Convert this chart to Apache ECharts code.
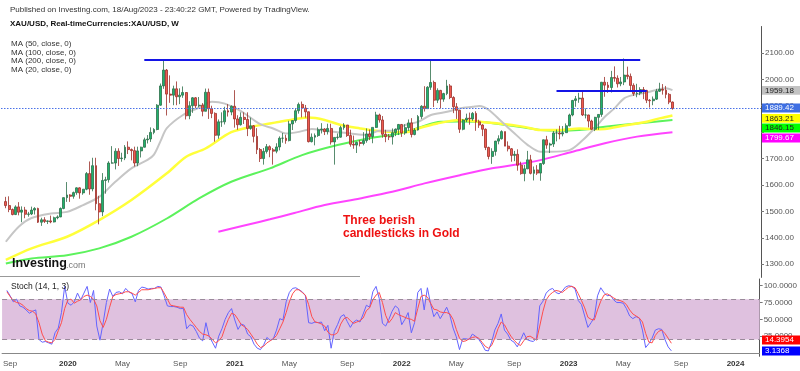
<!DOCTYPE html>
<html><head><meta charset="utf-8">
<script src="https://cdn.jsdelivr.net/npm/echarts@6/dist/echarts.min.js"></script>
<style>html,body{margin:0;padding:0;background:#fff}#c{width:800px;height:371px}</style>
</head><body><div id="c"></div>
<script>
// ---- data (weekly XAU/USD, [open, high, low, close]) ----
const firstWeek = '2019-08-26';
const candles2019 = [[1537,1555,1512,1522],[1522,1557,1497,1507],[1507,1511,1485,1488],[1488,1523,1486,1517],[1517,1535,1485,1497],[1497,1519,1459,1505],[1505,1517,1474,1489],[1489,1498,1480,1490],[1490,1518,1486,1505],[1505,1516,1488,1511],[1511,1514,1456,1459],[1459,1476,1445,1468],[1468,1478,1456,1462],[1462,1466,1452,1464],[1464,1484,1455,1460],[1460,1480,1458,1476],[1476,1485,1470,1479],[1479,1515,1478,1511],[1511,1553,1508,1552]];
const candles2020 = [[1552,1611,1536,1562],[1562,1565,1536,1557],[1557,1575,1548,1571],[1571,1591,1563,1589],[1589,1591,1548,1570],[1570,1584,1563,1584],[1584,1649,1580,1643],[1643,1689,1563,1585],[1585,1703,1576,1673],[1673,1703,1504,1529],[1529,1559,1451,1498],[1498,1645,1482,1617],[1617,1631,1567,1620],[1620,1690,1609,1683],[1683,1747,1681,1683],[1683,1739,1659,1728],[1728,1739,1672,1700],[1700,1722,1688,1702],[1702,1751,1694,1743],[1743,1765,1717,1734],[1734,1738,1693,1730],[1730,1745,1670,1683],[1683,1745,1671,1729],[1729,1745,1704,1743],[1743,1779,1742,1771],[1771,1789,1757,1774],[1774,1818,1763,1799],[1799,1815,1792,1810],[1810,1906,1807,1902],[1902,1984,1900,1975],[1975,2075,1964,2035],[2035,2039,1863,1944],[1944,2015,1911,1940],[1940,1976,1902,1964],[1964,1992,1902,1934],[1934,1966,1906,1940],[1940,1973,1930,1950],[1950,1951,1848,1862],[1862,1917,1849,1900],[1900,1933,1873,1930],[1930,1933,1891,1900],[1900,1933,1894,1902],[1902,1910,1860,1879],[1879,1965,1879,1951],[1951,1965,1850,1889],[1889,1900,1853,1871],[1871,1875,1764,1788],[1788,1848,1775,1839],[1839,1875,1820,1839],[1839,1896,1829,1881],[1881,1906,1859,1876],[1876,1901,1864,1898]];
const candles2021 = [[1898,1959,1817,1850],[1850,1864,1809,1828],[1828,1875,1825,1856],[1856,1875,1831,1848],[1848,1875,1785,1814],[1814,1855,1809,1824],[1824,1827,1761,1784],[1784,1815,1717,1734],[1734,1740,1687,1700],[1700,1740,1677,1727],[1727,1755,1719,1745],[1745,1750,1705,1733],[1733,1740,1677,1728],[1728,1758,1720,1744],[1744,1784,1731,1777],[1777,1797,1760,1777],[1777,1790,1756,1768],[1768,1843,1765,1831],[1831,1845,1808,1844],[1844,1890,1836,1881],[1881,1912,1870,1905],[1905,1916,1856,1891],[1891,1903,1855,1877],[1877,1878,1761,1764],[1764,1795,1761,1781],[1781,1795,1750,1787],[1787,1818,1782,1809],[1809,1834,1795,1812],[1812,1815,1789,1802],[1802,1832,1791,1814],[1814,1832,1753,1763],[1763,1780,1677,1780],[1780,1795,1772,1781],[1781,1824,1779,1817],[1817,1834,1809,1827],[1827,1827,1782,1787],[1787,1809,1745,1754],[1754,1787,1737,1751],[1751,1764,1721,1761],[1761,1770,1746,1757],[1757,1800,1750,1768],[1768,1814,1760,1793],[1793,1810,1770,1783],[1783,1818,1758,1818],[1818,1877,1816,1865],[1865,1870,1836,1846],[1846,1861,1779,1792],[1792,1809,1762,1783],[1783,1793,1770,1782],[1782,1814,1753,1798],[1798,1814,1785,1811],[1811,1831,1789,1829]];
const candles2022 = [[1829,1831,1782,1797],[1797,1830,1790,1817],[1817,1848,1805,1835],[1835,1853,1780,1791],[1791,1815,1788,1808],[1808,1865,1806,1859],[1859,1902,1850,1898],[1898,1974,1878,1889],[1889,1974,1888,1970],[1970,2070,1960,1988],[1988,1995,1895,1921],[1921,1966,1910,1958],[1958,1960,1890,1925],[1925,1949,1915,1946],[1946,1998,1940,1975],[1975,1982,1925,1931],[1931,1936,1872,1896],[1896,1910,1850,1883],[1883,1884,1797,1811],[1811,1849,1807,1846],[1846,1870,1838,1853],[1853,1874,1828,1850],[1850,1876,1843,1871],[1871,1879,1805,1839],[1839,1847,1816,1827],[1827,1830,1785,1811],[1811,1814,1732,1742],[1742,1745,1697,1708],[1708,1739,1680,1727],[1727,1767,1711,1766],[1766,1788,1754,1775],[1775,1807,1772,1802],[1802,1802,1747,1747],[1747,1765,1727,1737],[1737,1740,1688,1712],[1712,1729,1690,1716],[1716,1735,1654,1675],[1675,1688,1639,1643],[1643,1676,1614,1661],[1661,1729,1660,1695],[1695,1714,1640,1644],[1644,1670,1617,1657],[1657,1675,1638,1645],[1645,1682,1616,1681],[1681,1772,1676,1771],[1771,1786,1737,1751],[1751,1760,1721,1755],[1755,1804,1744,1797],[1797,1810,1765,1797],[1797,1824,1773,1793],[1793,1823,1784,1798],[1798,1833,1797,1824]];
const candles2023 = [[1824,1870,1822,1865],[1865,1922,1860,1920],[1920,1937,1896,1926],[1926,1949,1911,1929],[1929,1959,1861,1865],[1865,1890,1852,1865],[1865,1866,1818,1842],[1842,1847,1809,1811],[1811,1858,1804,1856],[1856,1868,1809,1867],[1867,1990,1858,1989],[1989,2009,1934,1978],[1978,1990,1949,1969],[1969,2032,1950,2007],[2007,2049,1991,2004],[2004,2015,1969,1983],[1983,2009,1974,1990],[1990,2079,1978,2016],[2016,2048,2000,2011],[2011,2022,1952,1977],[1977,1985,1937,1946],[1946,1983,1932,1948],[1948,1970,1940,1961],[1961,1971,1925,1958],[1958,1960,1910,1921],[1921,1925,1893,1919],[1919,1935,1902,1925],[1925,1964,1922,1955],[1955,1987,1952,1962],[1962,1982,1942,1959],[1959,1975,1928,1943],[1943,1948,1906,1914],[1914,1916,1885,1889.42]];

// moving averages: [week index from first candle, value]
const ma20Points = [[0,1385],[4,1442],[8,1475],[14,1492],[19,1498],[24,1524],[29,1555],[34,1612],[39,1663],[44,1695],[46,1715],[48,1765],[50,1815],[55,1865],[60,1893],[64,1915],[68,1908],[73,1880],[79,1830],[83,1814],[87,1795],[91,1801],[95,1812],[99,1805],[103,1800],[107,1795],[112,1790],[116,1805],[120,1805],[124,1827],[128,1839],[132,1865],[137,1877],[141,1890],[145,1896],[147,1899],[150,1884],[154,1839],[158,1795],[162,1752],[166,1726],[169,1726],[175,1732],[179,1768],[183,1817],[186,1858],[189,1890],[192,1928],[195,1941],[199,1950],[202,1960],[205,1966],[207,1959.18]];
const ma50Points = [[0,1316],[8,1360],[19,1404],[29,1467],[39,1543],[50,1644],[56,1707],[62,1738],[70,1800],[77,1822],[82,1833],[85,1839],[91,1852],[94,1855],[99,1846],[104,1827],[110,1814],[115,1805],[120,1801],[125,1801],[128,1814],[134,1833],[141,1846],[147,1839],[153,1833],[161,1820],[166,1808],[172,1808],[178,1814],[182,1811],[186,1812],[192,1825],[199,1839],[203,1852],[207,1863.21]];
const ma100Points = [[0,1303],[8,1322],[19,1334],[29,1360],[39,1404],[50,1473],[60,1549],[70,1612],[82,1663],[92,1713],[103,1751],[113,1777],[123,1797],[129,1820],[135,1839],[141,1840],[147,1839],[153,1831],[161,1818],[166,1808],[172,1805],[178,1808],[186,1820],[196,1833],[207,1846.15]];
const ma200Points = [[66,1423],[79,1461],[82,1470],[89,1492],[99,1524],[110,1549],[120,1574],[130,1606],[141,1637],[151,1663],[161,1682],[166,1694],[176,1726],[186,1758],[196,1783],[207,1799.67]];

// Stochastic (14,1,3)
const stochK = [93,85,76,80,70,68,64,59,62,64,20,16,17,15,13,30,37,60,99,74,71,76,89,79,89,99,75,93,40,19,45,75,95,84,90,91,88,96,91,88,76,93,98,97,95,96,96,99,98,85,70,69,69,68,66,66,36,42,40,32,22,18,45,25,16,7,25,36,50,60,66,49,35,43,41,28,24,13,7,5,12,23,19,21,34,51,49,76,90,96,97,94,91,85,45,44,46,45,46,33,41,7,32,42,54,57,47,38,46,49,46,58,71,68,91,99,81,44,40,50,62,70,
66,42,50,60,30,45,90,96,64,97,73,54,61,51,59,68,56,37,24,5,21,21,20,28,25,20,13,4,3,16,34,44,58,34,28,19,16,9,19,30,20,18,17,22,70,77,89,94,96,90,88,92,98,100,99,95,78,72,55,38,45,53,85,97,90,85,86,79,75,75,74,66,55,51,54,52,34,8,14,22,34,36,35,20,9,3.1368];
const stochD = [91,84,78,75,74,71,66,63,62,58,45,28,18,16,15,20,33,45,66,79,80,74,77,79,84,86,84,80,70,48,38,50,68,84,87,88,89,91,91,89,86,90,94,94,94,95,96,97,97,89,80,71,70,69,68,68,57,50,44,38,32,28,27,25,20,15,18,24,38,50,59,57,50,42,39,35,28,21,13,8,10,15,18,21,26,36,46,60,76,88,94,94,90,86,72,54,46,45,43,40,31,27,27,30,43,51,53,48,44,46,48,52,63,67,79,86,90,75,56,45,51,60,
57,55,53,51,50,47,66,84,86,83,74,65,64,61,60,60,58,50,35,22,17,18,21,23,24,22,16,10,7,11,22,36,46,42,33,25,19,14,11,18,24,25,22,19,40,62,79,86,90,93,92,90,94,98,99,97,88,78,67,53,50,49,64,77,86,88,85,82,79,78,76,72,64,58,55,52,46,29,16,15,26,32,34,29,22,14.3954];

const priceTicks = [1300,1400,1500,1600,1700,1800,1900,2000,2100];
const priceLabels = [1300,1400,1500,1600,1700,1900,2000,2100]; // 1800 label hidden behind the value tags
const stochTicks = [25,50,75,100];
const resistanceHigh = {from: 43, to: 197, value: 2075};
const resistanceMid = {from: 171, to: 199, value: 1956};
const lastClose = 1889.42;
const lastMA = {ma20: 1959.18, ma50: 1863.21, ma100: 1846.15, ma200: 1799.67};
const lastStoch = {k: 3.1368, d: 14.3954};
const stochBands = [20, 80];

// ---- build ----
const LEAD = 1;            // one empty week before the first candle
const TOTAL = 236;         // weeks shown incl. empty future space
const categories = [];
{
  let t = Date.UTC(2019, 7, 26) - LEAD * 7 * 86400000;
  for (let i = 0; i < TOTAL; i++) { categories.push(new Date(t).toISOString().slice(0,10)); t += 7 * 86400000; }
}
const allCandles = [].concat(candles2019, candles2020, candles2021, candles2022, candles2023);
const candleData = ['-'].concat(allCandles.map(c => [c[0], c[3], c[2], c[1]]));
const shift = pts => pts.map(p => [p[0] + LEAD, p[1]]);
const kData = ['-'].concat(stochK);
const dData = ['-'].concat(stochD);

function isLabel(i) {
  const m = +categories[i].slice(5,7);
  const pm = i > 0 ? +categories[i-1].slice(5,7) : -1;
  return m !== pm && (m === 1 || m === 5 || m === 9);
}
function fmtLabel(v) {
  const m = +v.slice(5,7);
  if (m === 1) return '{y|' + v.slice(0,4) + '}';
  return m === 5 ? 'May' : 'Sep';
}

const FONT = 'Liberation Sans, Arial, sans-serif';
function tag(yc, text, bg, fg) {
  return {type:'group', x:762, y:yc - 4.4, z:100, zlevel:1, children:[
    {type:'rect', zlevel:1, z:100, shape:{x:0,y:0,width:38,height:8.8}, style:{fill:bg}},
    {type:'text', zlevel:1, z:101, x:3, y:4.6, style:{text:text, fill:fg, font:'8px ' + FONT, verticalAlign:'middle'}}
  ]};
}

const chart = echarts.init(document.getElementById('c'), null, {renderer:'canvas'});
chart.setOption({
  animation: false,
  backgroundColor: '#fff',
  grid: [
    {left: 1, right: 39, top: 26.5, bottom: 93.6},
    {left: 1, right: 39, top: 279, bottom: 14.7}
  ],
  xAxis: [
    {type:'category', gridIndex:0, data:categories, boundaryGap:true,
     axisLine:{show:false}, axisTick:{show:false}, axisLabel:{show:false}, splitLine:{show:false}},
    {type:'category', gridIndex:1, data:categories, boundaryGap:true,
     axisLine:{show:true, lineStyle:{color:'#888', width:1}}, axisTick:{show:false},
     axisLabel:{interval:(i)=>isLabel(i), formatter:fmtLabel, fontSize:8, color:'#555', margin:3, fontFamily:FONT,
       rich:{y:{fontSize:8, fontWeight:'bold', color:'#333', fontFamily:FONT}}},
     splitLine:{show:false}}
  ],
  yAxis: [
    {type:'value', gridIndex:0, position:'right', min:1250, max:2200, scale:true,
     axisLine:{show:true, lineStyle:{color:'#555'}},
     axisTick:{show:true, length:3, customValues:priceTicks, lineStyle:{color:'#777'}},
     axisLabel:{customValues:priceLabels, formatter:v=>v.toFixed(2), fontSize:8, color:'#555', margin:4, fontFamily:FONT},
     splitLine:{show:false}},
    {type:'value', gridIndex:1, position:'right', min:-5, max:110,
     axisLine:{show:true, lineStyle:{color:'#555'}},
     axisTick:{show:true, length:3, customValues:stochTicks, lineStyle:{color:'#777'}},
     axisLabel:{customValues:stochTicks, formatter:v=>v.toFixed(4), fontSize:8, color:'#555', margin:4, fontFamily:FONT},
     splitLine:{show:false}}
  ],
  series: [
    {name:'MA200', type:'line', xAxisIndex:0, yAxisIndex:0, data:shift(ma200Points), smooth:0.3, showSymbol:false, z:1,
     lineStyle:{color:'#ff44ff', width:2}},
    {name:'MA100', type:'line', xAxisIndex:0, yAxisIndex:0, data:shift(ma100Points), smooth:0.3, showSymbol:false, z:1,
     lineStyle:{color:'#5cf25c', width:2}},
    {name:'MA50', type:'line', xAxisIndex:0, yAxisIndex:0, data:shift(ma50Points), smooth:0.3, showSymbol:false, z:1,
     lineStyle:{color:'#ffff3a', width:2.5}},
    {name:'MA20', type:'line', xAxisIndex:0, yAxisIndex:0, data:shift(ma20Points), smooth:0.3, showSymbol:false, z:1,
     lineStyle:{color:'#c6c6c6', width:2}},
    {name:'XAU/USD', type:'candlestick', xAxisIndex:0, yAxisIndex:0, data:candleData, barWidth:'75%', z:3,
     itemStyle:{color:'#1fb36c', color0:'#ef5a50', borderColor:'#2d6e4a', borderColor0:'#9a2e28', borderWidth:0.8},
     markLine:{silent:true, symbol:['none','none'], label:{show:false}, animation:false, data:[
       [{coord:[resistanceHigh.from+LEAD, resistanceHigh.value], lineStyle:{color:'#1414e6', width:2, type:'solid'}},
        {coord:[resistanceHigh.to+LEAD, resistanceHigh.value]}],
       [{coord:[resistanceMid.from+LEAD, resistanceMid.value], lineStyle:{color:'#1414e6', width:2, type:'solid'}},
        {coord:[resistanceMid.to+LEAD, resistanceMid.value]}],
       {yAxis:lastClose, lineStyle:{color:'#4a72e8', width:1, type:[1.5,1.5]}}
     ]}},
    {name:'%K', type:'line', xAxisIndex:1, yAxisIndex:1, data:kData, showSymbol:false, z:3,
     lineStyle:{color:'#6464ff', width:1},
     markArea:{silent:true, itemStyle:{color:'#dfc1df'}, data:[[{yAxis:stochBands[0]},{yAxis:stochBands[1]}]]},
     markLine:{silent:true, symbol:['none','none'], label:{show:false}, animation:false,
       lineStyle:{color:'#9a8a9a', width:1.2, type:[5,4]},
       data:[{yAxis:stochBands[0]},{yAxis:stochBands[1]}]}},
    {name:'%D', type:'line', xAxisIndex:1, yAxisIndex:1, data:dData, showSymbol:false, z:4,
     lineStyle:{color:'#ff4d4d', width:1}}
  ],
  graphic: [
    {type:'text', left:10, top:6, style:{text:'Published on Investing.com, 18/Aug/2023 - 23:40:22 GMT, Powered by TradingView.', font:'8px ' + FONT, fill:'#333'}},
    {type:'text', left:10, top:20, style:{text:'XAU/USD, Real-timeCurrencies:XAU/USD, W', font:'bold 8px ' + FONT, fill:'#111'}},
    {type:'text', left:11, top:40, style:{text:'MA (50, close, 0)\nMA (100, close, 0)\nMA (200, close, 0)\nMA (20, close, 0)', font:'8px ' + FONT, fill:'#333', lineHeight:8.4}},
    {type:'text', left:11, top:282, z:50, style:{text:'Stoch (14, 1, 3)', font:'8.5px ' + FONT, fill:'#222'}},
    {type:'text', left:343, top:214, z:50, style:{text:'Three berish\ncandlesticks in Gold', font:'bold 12px ' + FONT, fill:'#ee1111', lineHeight:13.4}},
    {type:'text', left:12, top:257, z:50, style:{text:'Investing', font:'bold 12.5px ' + FONT, fill:'#111'}},
    {type:'text', left:66, top:261, z:50, style:{text:'.com', font:'9px ' + FONT, fill:'#777'}},
    {type:'line', z:50, shape:{x1:0, y1:276.5, x2:360, y2:276.5}, style:{stroke:'#999', lineWidth:1}},
    tag(90.3, lastMA.ma20.toFixed(2), '#c2c2c2', '#222'),
    tag(108, lastClose.toFixed(2), '#3e6fe3', '#fff'),
    tag(118.3, lastMA.ma50.toFixed(2), '#ffff00', '#222'),
    tag(128, lastMA.ma100.toFixed(2), '#00ff00', '#222'),
    tag(138, lastMA.ma200.toFixed(2), '#ff00ff', '#fff'),
    tag(340, lastStoch.d.toFixed(4), '#ff0000', '#fff'),
    tag(351, lastStoch.k.toFixed(4), '#0000ff', '#fff')
  ]
});
</script></body></html>
